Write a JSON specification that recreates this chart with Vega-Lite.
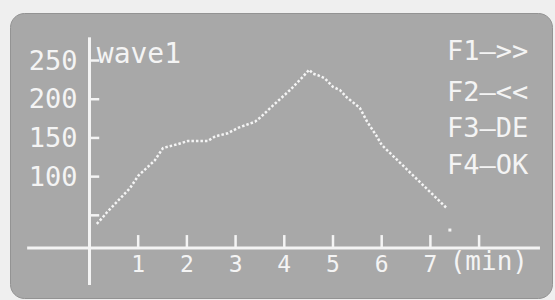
{
  "$schema": "https://vega.github.io/schema/vega-lite/v6.json",
  "width": 542,
  "height": 285,
  "autosize": {"type": "none"},
  "padding": {"left": 10, "top": 13, "right": 3, "bottom": 2},
  "background": "#efefef",
  "view": {"fill": "#a8a8a8", "stroke": "#939393", "strokeWidth": 1, "cornerRadius": 14},
  "datasets": {
    "curve": [
      {"t": 0.15, "v": 39}, {"t": 0.26, "v": 46.5}, {"t": 0.36, "v": 54},
      {"t": 0.83, "v": 85}, {"t": 1.0, "v": 101}, {"t": 1.34, "v": 121},
      {"t": 1.51, "v": 137}, {"t": 1.82, "v": 142}, {"t": 2.02, "v": 146},
      {"t": 2.43, "v": 146}, {"t": 2.58, "v": 152}, {"t": 2.84, "v": 156},
      {"t": 3.05, "v": 163}, {"t": 3.4, "v": 171}, {"t": 3.5, "v": 176},
      {"t": 3.77, "v": 192}, {"t": 4.12, "v": 212}, {"t": 4.38, "v": 229},
      {"t": 4.51, "v": 238}, {"t": 4.59, "v": 233}, {"t": 4.69, "v": 231},
      {"t": 4.83, "v": 227}, {"t": 5.0, "v": 216}, {"t": 5.14, "v": 212},
      {"t": 5.29, "v": 202}, {"t": 5.55, "v": 189}, {"t": 5.7, "v": 171},
      {"t": 5.9, "v": 152}, {"t": 6.0, "v": 141}, {"t": 7.34, "v": 59}
    ],
    "stray": [{"t": 7.4, "v": 31}],
    "yaxis": [{"t": 0, "t2": 0, "v": -40, "v2": 280}],
    "xaxis": [{"t": -1.28, "t2": 9.25, "v": 7.75, "v2": 7.75}],
    "yticks": [
      {"v": 50, "label": ""}, {"v": 100, "label": "100"}, {"v": 150, "label": "150"},
      {"v": 200, "label": "200"}, {"v": 250, "label": "250"}
    ],
    "xticks": [
      {"t": 1, "label": "1"}, {"t": 2, "label": "2"}, {"t": 3, "label": "3"},
      {"t": 4, "label": "4"}, {"t": 5, "label": "5"}, {"t": 6, "label": "6"},
      {"t": 7, "label": "7"}, {"t": 8, "label": ""}
    ],
    "keys": [
      {"t": 7.34, "v": 261, "label": "F1—>>"},
      {"t": 7.34, "v": 208, "label": "F2—<<"},
      {"t": 7.34, "v": 161.5, "label": "F3—DE"},
      {"t": 7.34, "v": 113.7, "label": "F4—OK"}
    ],
    "titles": [
      {"t": 0.15, "v": 250, "label": "wave1"}
    ],
    "unit": [{"t": 8.2, "v": 7.75, "label": "(min)"}]
  },
  "layer": [
    {
      "data": {"name": "yaxis"},
      "mark": {"type": "rule", "color": "#f4f4f4", "strokeWidth": 3},
      "encoding": {
        "x": {"field": "t", "type": "quantitative", "scale": {"domain": [-1.632, 9.497], "nice": false, "zero": false}, "axis": null},
        "x2": {"field": "t2"},
        "y": {"field": "v", "type": "quantitative", "scale": {"domain": [-56.8, 311.4], "nice": false, "zero": false}, "axis": null},
        "y2": {"field": "v2"}
      }
    },
    {
      "data": {"name": "xaxis"},
      "mark": {"type": "rule", "color": "#f4f4f4", "strokeWidth": 3},
      "encoding": {
        "x": {"field": "t", "type": "quantitative"},
        "x2": {"field": "t2"},
        "y": {"field": "v", "type": "quantitative"},
        "y2": {"field": "v2"}
      }
    },
    {
      "data": {"name": "yticks"},
      "mark": {"type": "rule", "color": "#f4f4f4", "strokeWidth": 2.5},
      "encoding": {
        "x": {"datum": 0, "type": "quantitative"},
        "x2": {"datum": 0.2},
        "y": {"field": "v", "type": "quantitative"}
      }
    },
    {
      "data": {"name": "yticks"},
      "mark": {"type": "text", "color": "#f4f4f4", "font": "DejaVu Sans Mono", "fontSize": 27, "align": "right", "baseline": "middle", "dx": -12, "dy": 1},
      "encoding": {
        "x": {"datum": 0, "type": "quantitative"},
        "y": {"field": "v", "type": "quantitative"},
        "text": {"field": "label"}
      }
    },
    {
      "data": {"name": "xticks"},
      "mark": {"type": "rule", "color": "#f4f4f4", "strokeWidth": 2.5},
      "encoding": {
        "x": {"field": "t", "type": "quantitative"},
        "y": {"datum": 7.75, "type": "quantitative"},
        "y2": {"datum": 24.5}
      }
    },
    {
      "data": {"name": "xticks"},
      "mark": {"type": "text", "color": "#f4f4f4", "font": "DejaVu Sans Mono", "fontSize": 23, "align": "center", "baseline": "middle", "dy": 17},
      "encoding": {
        "x": {"field": "t", "type": "quantitative"},
        "y": {"datum": 7.75, "type": "quantitative"},
        "text": {"field": "label"}
      }
    },
    {
      "data": {"name": "unit"},
      "mark": {"type": "text", "color": "#f4f4f4", "font": "DejaVu Sans Mono", "fontSize": 26, "align": "center", "baseline": "middle", "dy": 14},
      "encoding": {
        "x": {"field": "t", "type": "quantitative"},
        "y": {"field": "v", "type": "quantitative"},
        "text": {"field": "label"}
      }
    },
    {
      "data": {"name": "titles"},
      "mark": {"type": "text", "color": "#f4f4f4", "font": "DejaVu Sans Mono", "fontSize": 28, "align": "left", "baseline": "alphabetic", "dy": 2},
      "encoding": {
        "x": {"field": "t", "type": "quantitative"},
        "y": {"field": "v", "type": "quantitative"},
        "text": {"field": "label"}
      }
    },
    {
      "data": {"name": "keys"},
      "mark": {"type": "text", "color": "#f4f4f4", "font": "DejaVu Sans Mono", "fontSize": 27, "align": "left", "baseline": "middle"},
      "encoding": {
        "x": {"field": "t", "type": "quantitative"},
        "y": {"field": "v", "type": "quantitative"},
        "text": {"field": "label"}
      }
    },
    {
      "data": {"name": "curve"},
      "mark": {"type": "line", "color": "#f4f4f4", "strokeWidth": 2.5, "strokeDash": [2.5, 2]},
      "encoding": {
        "x": {"field": "t", "type": "quantitative"},
        "y": {"field": "v", "type": "quantitative"}
      }
    },
    {
      "data": {"name": "stray"},
      "mark": {"type": "square", "color": "#f4f4f4", "opacity": 1, "size": 9},
      "encoding": {
        "x": {"field": "t", "type": "quantitative"},
        "y": {"field": "v", "type": "quantitative"}
      }
    }
  ]
}
